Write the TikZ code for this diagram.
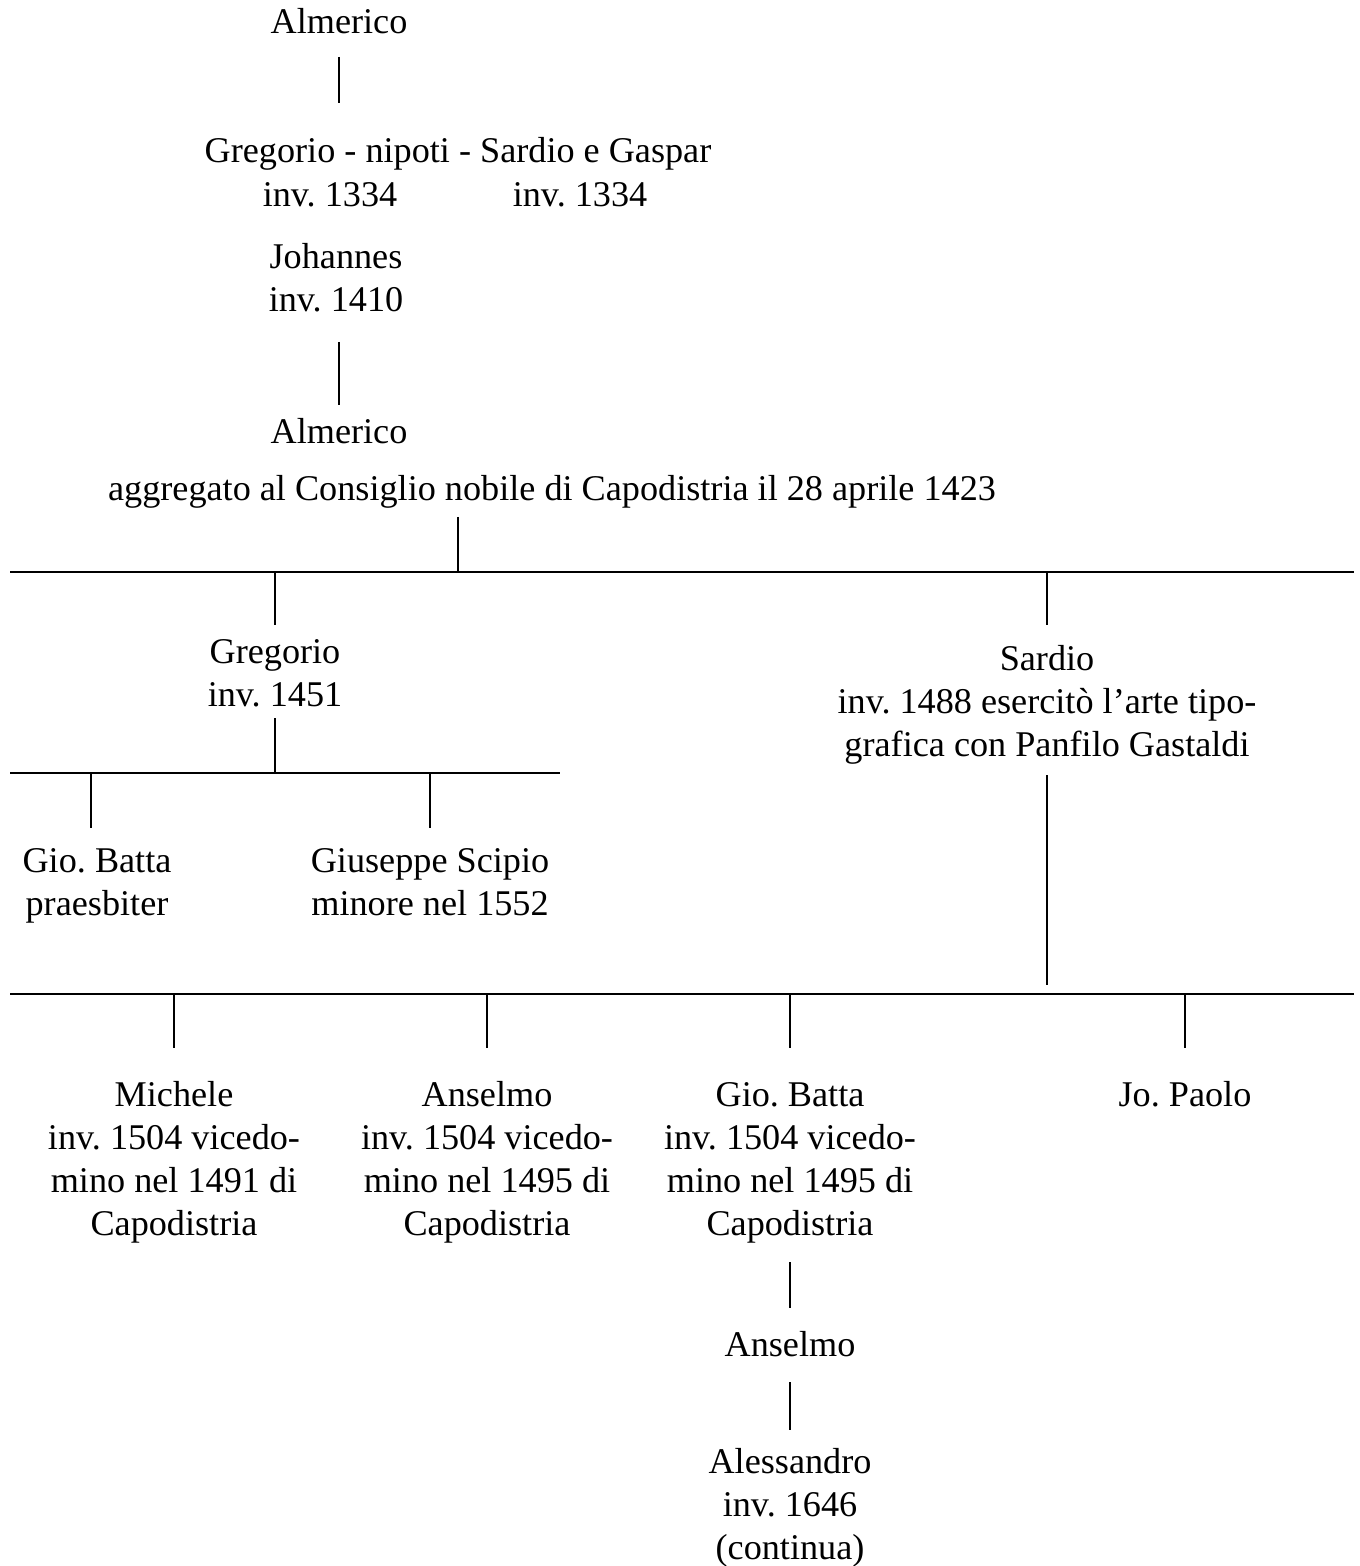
\documentclass[tikz,border=0pt]{standalone}
\usepackage{fontspec}
\setmainfont{Liberation Serif}
\frenchspacing
\begin{document}
\begin{tikzpicture}[x=0.5pt,y=-0.5pt,
  person/.style={font=\fontsize{18.1}{21.5}\selectfont, align=center, inner sep=0pt, anchor=north},
  ln/.style={line width=1pt}]
\useasboundingbox (0,0) rectangle (1359,1566);
% nodes
\node[person] (alm1) at (339,3) {\strut Almerico};
\node[person] (greg1) at (458,132) {\strut Gregorio - nipoti - Sardio e Gaspar};
\node[person] (inva) at (330,176) {\strut inv. 1334};
\node[person] (invb) at (580,176) {\strut inv. 1334};
\node[person] (joh) at (336,238) {\strut Johannes\\inv. 1410};
\node[person] (alm2) at (339,413) {\strut Almerico};
\node[person] (agg) at (552,470) {\strut aggregato al Consiglio nobile di Capodistria il 28 aprile 1423};
\node[person] (greg2) at (275,633) {\strut Gregorio\\inv. 1451};
\node[person] (sard) at (1047,640) {\strut Sardio\\inv. 1488 esercitò l’arte tipo-\\grafica con Panfilo Gastaldi};
\node[person] (giob1) at (97,842) {\strut Gio. Batta\\praesbiter};
\node[person] (gius) at (430,842) {\strut Giuseppe Scipio\\minore nel 1552};
\node[person] (mich) at (174,1076) {\strut Michele\\inv. 1504 vicedo-\\mino nel 1491 di\\Capodistria};
\node[person] (ans1) at (487,1076) {\strut Anselmo\\inv. 1504 vicedo-\\mino nel 1495 di\\Capodistria};
\node[person] (giob2) at (790,1076) {\strut Gio. Batta\\inv. 1504 vicedo-\\mino nel 1495 di\\Capodistria};
\node[person] (jop) at (1185,1076) {\strut Jo. Paolo};
\node[person] (ans2) at (790,1326) {\strut Anselmo};
\node[person] (ales) at (790,1443) {\strut Alessandro\\inv. 1646\\(continua)};
% coordinates
\coordinate (c1a) at (339,57);   \coordinate (c1b) at (339,103);
\coordinate (c2a) at (339,342);  \coordinate (c2b) at (339,405);
\coordinate (c3a) at (458,517);  \coordinate (c3b) at (458,572);
\coordinate (h1l) at (10,572);   \coordinate (h1r) at (1354,572);
\coordinate (c4a) at (275,625);  \coordinate (c4t) at (275,572);
\coordinate (c5a) at (1047,625); \coordinate (c5t) at (1047,572);
\coordinate (c6a) at (275,718);  \coordinate (c6b) at (275,773);
\coordinate (h2l) at (10,773);   \coordinate (h2r) at (560,773);
\coordinate (c7t) at (91,773);   \coordinate (c7b) at (91,828);
\coordinate (c8t) at (430,773);  \coordinate (c8b) at (430,828);
\coordinate (c9a) at (1047,775); \coordinate (c9b) at (1047,985);
\coordinate (h3l) at (10,994);   \coordinate (h3r) at (1354,994);
\coordinate (d1t) at (174,994);  \coordinate (d1b) at (174,1048);
\coordinate (d2t) at (487,994);  \coordinate (d2b) at (487,1048);
\coordinate (d3t) at (790,994);  \coordinate (d3b) at (790,1048);
\coordinate (d4t) at (1185,994); \coordinate (d4b) at (1185,1048);
\coordinate (e1a) at (790,1262); \coordinate (e1b) at (790,1308);
\coordinate (e2a) at (790,1382); \coordinate (e2b) at (790,1430);
% connectors
\draw[ln] (c1a) -- (c1b);
\draw[ln] (c2a) -- (c2b);
\draw[ln] (c3a) -- (c3b);
\draw[ln] (h1l) -- (h1r);
\draw[ln] (c4t) -- (c4a);
\draw[ln] (c5t) -- (c5a);
\draw[ln] (c6a) -- (c6b);
\draw[ln] (h2l) -- (h2r);
\draw[ln] (c7t) -- (c7b);
\draw[ln] (c8t) -- (c8b);
\draw[ln] (c9a) -- (c9b);
\draw[ln] (h3l) -- (h3r);
\draw[ln] (d1t) -- (d1b);
\draw[ln] (d2t) -- (d2b);
\draw[ln] (d3t) -- (d3b);
\draw[ln] (d4t) -- (d4b);
\draw[ln] (e1a) -- (e1b);
\draw[ln] (e2a) -- (e2b);
\end{tikzpicture}
\end{document}
